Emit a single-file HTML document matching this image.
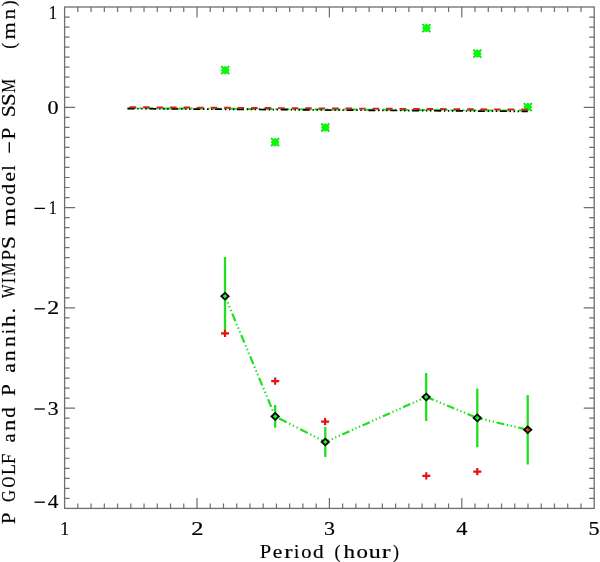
<!DOCTYPE html>
<html><head><meta charset="utf-8"><style>
html,body{margin:0;padding:0;background:#fff;width:600px;height:562px;overflow:hidden;}
svg{display:block;font-family:"Liberation Serif",serif;will-change:transform;}
</style></head><body>
<svg width="600" height="562" viewBox="0 0 600 562"><rect x="64.60" y="7.00" width="529.60" height="501.40" fill="none" stroke="#6e6e6e" stroke-width="1.3"/>
<path d="M77.84 508.40V503.40M77.84 7.00V12.00M91.08 508.40V503.40M91.08 7.00V12.00M104.32 508.40V503.40M104.32 7.00V12.00M117.56 508.40V503.40M117.56 7.00V12.00M130.80 508.40V503.40M130.80 7.00V12.00M144.04 508.40V503.40M144.04 7.00V12.00M157.28 508.40V503.40M157.28 7.00V12.00M170.52 508.40V503.40M170.52 7.00V12.00M183.76 508.40V503.40M183.76 7.00V12.00M197.00 508.40V497.90M197.00 7.00V17.50M210.24 508.40V503.40M210.24 7.00V12.00M223.48 508.40V503.40M223.48 7.00V12.00M236.72 508.40V503.40M236.72 7.00V12.00M249.96 508.40V503.40M249.96 7.00V12.00M263.20 508.40V503.40M263.20 7.00V12.00M276.44 508.40V503.40M276.44 7.00V12.00M289.68 508.40V503.40M289.68 7.00V12.00M302.92 508.40V503.40M302.92 7.00V12.00M316.16 508.40V503.40M316.16 7.00V12.00M329.40 508.40V497.90M329.40 7.00V17.50M342.64 508.40V503.40M342.64 7.00V12.00M355.88 508.40V503.40M355.88 7.00V12.00M369.12 508.40V503.40M369.12 7.00V12.00M382.36 508.40V503.40M382.36 7.00V12.00M395.60 508.40V503.40M395.60 7.00V12.00M408.84 508.40V503.40M408.84 7.00V12.00M422.08 508.40V503.40M422.08 7.00V12.00M435.32 508.40V503.40M435.32 7.00V12.00M448.56 508.40V503.40M448.56 7.00V12.00M461.80 508.40V497.90M461.80 7.00V17.50M475.04 508.40V503.40M475.04 7.00V12.00M488.28 508.40V503.40M488.28 7.00V12.00M501.52 508.40V503.40M501.52 7.00V12.00M514.76 508.40V503.40M514.76 7.00V12.00M528.00 508.40V503.40M528.00 7.00V12.00M541.24 508.40V503.40M541.24 7.00V12.00M554.48 508.40V503.40M554.48 7.00V12.00M567.72 508.40V503.40M567.72 7.00V12.00M580.96 508.40V503.40M580.96 7.00V12.00M64.60 17.03H69.60M594.20 17.03H589.20M64.60 27.06H69.60M594.20 27.06H589.20M64.60 37.08H69.60M594.20 37.08H589.20M64.60 47.11H69.60M594.20 47.11H589.20M64.60 57.14H69.60M594.20 57.14H589.20M64.60 67.17H69.60M594.20 67.17H589.20M64.60 77.20H69.60M594.20 77.20H589.20M64.60 87.22H69.60M594.20 87.22H589.20M64.60 97.25H69.60M594.20 97.25H589.20M64.60 107.28H75.10M594.20 107.28H583.70M64.60 117.31H69.60M594.20 117.31H589.20M64.60 127.34H69.60M594.20 127.34H589.20M64.60 137.36H69.60M594.20 137.36H589.20M64.60 147.39H69.60M594.20 147.39H589.20M64.60 157.42H69.60M594.20 157.42H589.20M64.60 167.45H69.60M594.20 167.45H589.20M64.60 177.48H69.60M594.20 177.48H589.20M64.60 187.50H69.60M594.20 187.50H589.20M64.60 197.53H69.60M594.20 197.53H589.20M64.60 207.56H75.10M594.20 207.56H583.70M64.60 217.59H69.60M594.20 217.59H589.20M64.60 227.62H69.60M594.20 227.62H589.20M64.60 237.64H69.60M594.20 237.64H589.20M64.60 247.67H69.60M594.20 247.67H589.20M64.60 257.70H69.60M594.20 257.70H589.20M64.60 267.73H69.60M594.20 267.73H589.20M64.60 277.76H69.60M594.20 277.76H589.20M64.60 287.78H69.60M594.20 287.78H589.20M64.60 297.81H69.60M594.20 297.81H589.20M64.60 307.84H75.10M594.20 307.84H583.70M64.60 317.87H69.60M594.20 317.87H589.20M64.60 327.90H69.60M594.20 327.90H589.20M64.60 337.92H69.60M594.20 337.92H589.20M64.60 347.95H69.60M594.20 347.95H589.20M64.60 357.98H69.60M594.20 357.98H589.20M64.60 368.01H69.60M594.20 368.01H589.20M64.60 378.04H69.60M594.20 378.04H589.20M64.60 388.06H69.60M594.20 388.06H589.20M64.60 398.09H69.60M594.20 398.09H589.20M64.60 408.12H75.10M594.20 408.12H583.70M64.60 418.15H69.60M594.20 418.15H589.20M64.60 428.18H69.60M594.20 428.18H589.20M64.60 438.20H69.60M594.20 438.20H589.20M64.60 448.23H69.60M594.20 448.23H589.20M64.60 458.26H69.60M594.20 458.26H589.20M64.60 468.29H69.60M594.20 468.29H589.20M64.60 478.32H69.60M594.20 478.32H589.20M64.60 488.34H69.60M594.20 488.34H589.20M64.60 498.37H69.60M594.20 498.37H589.20" stroke="#6e6e6e" stroke-width="1.2" fill="none"/>
<g font-family="Liberation Serif" font-size="20" fill="#000" stroke="#000" stroke-width="0.2"><text font-size="20" transform="translate(48.63 19.20) scale(0.838 0.96)">1</text><text font-size="20" transform="translate(47.46 114.00) scale(1.109 0.96)">0</text><text font-size="20" transform="translate(48.68 214.40) scale(0.810 0.96)">1</text><rect x="34.5" y="207.75" width="10.4" height="1.3" stroke="none"/><text font-size="20" transform="translate(47.35 313.90) scale(1.197 0.96)">2</text><rect x="34.5" y="308.15" width="10.4" height="1.3" stroke="none"/><text font-size="20" transform="translate(47.66 414.80) scale(1.089 0.96)">3</text><rect x="34.5" y="408.35" width="10.4" height="1.3" stroke="none"/><text font-size="20" transform="translate(47.68 508.00) scale(1.065 0.96)">4</text><rect x="34.5" y="501.55" width="10.4" height="1.3" stroke="none"/><text font-size="20" transform="translate(60.13 534.80) scale(0.895 0.96)">1</text><text font-size="20" transform="translate(191.23 534.80) scale(1.222 0.96)">2</text><text font-size="20" transform="translate(323.95 534.80) scale(1.101 0.96)">3</text><text font-size="20" transform="translate(456.16 534.80) scale(1.119 0.96)">4</text><text font-size="20" transform="translate(588.42 534.80) scale(1.105 0.96)">5</text><text font-size="19.5" transform="translate(259.71 558.00) scale(1.052 1.0)">P</text><text font-size="19.5" transform="translate(272.86 558.00) scale(1.108 1.0)">e</text><text font-size="19.5" transform="translate(284.20 558.00) scale(1.281 1.0)">r</text><text font-size="19.5" transform="translate(294.10 558.00) scale(0.970 1.0)">i</text><text font-size="19.5" transform="translate(301.22 558.00) scale(1.053 1.0)">o</text><text font-size="19.5" transform="translate(312.93 558.00) scale(1.090 1.0)">d</text><text font-size="19.5" transform="translate(334.50 558.00) scale(0.938 1.0)">(</text><text font-size="19.5" transform="translate(343.47 558.00) scale(1.182 1.0)">h</text><text font-size="19.5" transform="translate(356.43 558.00) scale(1.174 1.0)">o</text><text font-size="19.5" transform="translate(368.68 558.00) scale(1.234 1.0)">u</text><text font-size="19.5" transform="translate(381.77 558.00) scale(1.349 1.0)">r</text><text font-size="19.5" transform="translate(393.12 558.00) scale(0.918 1.0)">)</text></g>
<g transform="rotate(-90)" font-family="Liberation Serif" font-size="20" fill="#000" stroke="#000" stroke-width="0.2"><text font-size="20" transform="translate(-524.09 15.00) scale(1.026 0.96)">P</text><text font-size="20" transform="translate(-501.88 15.00) scale(0.823 0.96)">G</text><text font-size="20" transform="translate(-487.62 15.00) scale(0.750 0.96)">O</text><text font-size="20" transform="translate(-475.11 15.00) scale(0.891 0.96)">L</text><text font-size="20" transform="translate(-464.04 15.00) scale(0.936 0.96)">F</text><text font-size="20" transform="translate(-442.61 15.00) scale(1.013 0.96)">a</text><text font-size="20" transform="translate(-430.92 15.00) scale(1.126 0.96)">n</text><text font-size="20" transform="translate(-417.85 15.00) scale(1.041 0.96)">d</text><text font-size="20" transform="translate(-395.70 15.00) scale(1.036 0.96)">P</text><text font-size="20" transform="translate(-372.77 15.00) scale(1.089 0.96)">a</text><text font-size="20" transform="translate(-361.20 15.00) scale(1.093 0.96)">n</text><text font-size="20" transform="translate(-346.78 15.00) scale(1.039 0.96)">n</text><text font-size="20" transform="translate(-333.84 15.00) scale(0.799 0.96)">i</text><text font-size="20" transform="translate(-327.03 15.00) scale(1.174 0.96)">h</text><text font-size="20" transform="translate(-313.61 15.00) scale(1.142 0.96)">.</text><text font-size="20" transform="translate(-297.91 15.00) scale(0.712 0.96)">W</text><text font-size="20" transform="translate(-283.29 15.00) scale(0.821 0.96)">I</text><text font-size="20" transform="translate(-276.03 15.00) scale(0.752 0.96)">M</text><text font-size="20" transform="translate(-260.13 15.00) scale(0.913 0.96)">P</text><text font-size="20" transform="translate(-248.97 15.00) scale(1.170 0.96)">S</text><text font-size="20" transform="translate(-226.08 15.00) scale(1.154 0.96)">m</text><text font-size="20" transform="translate(-206.06 15.00) scale(1.003 0.96)">o</text><text font-size="20" transform="translate(-194.57 15.00) scale(1.063 0.96)">d</text><text font-size="20" transform="translate(-181.87 15.00) scale(1.108 0.96)">e</text><text font-size="20" transform="translate(-170.69 15.00) scale(0.967 0.96)">l</text><rect x="-152.70" y="8.65" width="10.60" height="1.3" stroke="none"/><text font-size="20" transform="translate(-139.51 15.00) scale(1.067 0.96)">P</text><text font-size="20" transform="translate(-117.34 15.00) scale(1.077 0.96)">S</text><text font-size="20" transform="translate(-106.12 15.00) scale(1.135 0.96)">S</text><text font-size="20" transform="translate(-92.74 15.00) scale(0.770 0.96)">M</text><text font-size="20" transform="translate(-48.75 15.00) scale(0.857 0.96)">(</text><text font-size="20" transform="translate(-39.56 15.00) scale(1.106 0.96)">m</text><text font-size="20" transform="translate(-19.59 15.00) scale(1.061 0.96)">n</text><text font-size="20" transform="translate(-6.36 15.00) scale(0.876 0.96)">)</text></g>
<path d="M221.2 70.2H229.2M225.2 66.2V74.2M221.2 66.2L229.2 74.2M221.2 74.2L229.2 66.2" stroke="#2cc82c" stroke-width="1.9" fill="none"/><rect x="221.89999999999998" y="66.9" width="6.6" height="6.6" fill="#00ff00"/>
<path d="M271.1 142.2H279.1M275.1 138.2V146.2M271.1 138.2L279.1 146.2M271.1 146.2L279.1 138.2" stroke="#2cc82c" stroke-width="1.9" fill="none"/><rect x="271.8" y="138.89999999999998" width="6.6" height="6.6" fill="#00ff00"/>
<path d="M321.3 127.5H329.3M325.3 123.5V131.5M321.3 123.5L329.3 131.5M321.3 131.5L329.3 123.5" stroke="#2cc82c" stroke-width="1.9" fill="none"/><rect x="322.0" y="124.2" width="6.6" height="6.6" fill="#00ff00"/>
<path d="M422.4 28.1H430.4M426.4 24.1V32.1M422.4 24.1L430.4 32.1M422.4 32.1L430.4 24.1" stroke="#2cc82c" stroke-width="1.9" fill="none"/><rect x="423.09999999999997" y="24.8" width="6.6" height="6.6" fill="#00ff00"/>
<path d="M473.3 53.6H481.3M477.3 49.6V57.6M473.3 49.6L481.3 57.6M473.3 57.6L481.3 49.6" stroke="#2cc82c" stroke-width="1.9" fill="none"/><rect x="474.0" y="50.300000000000004" width="6.6" height="6.6" fill="#00ff00"/>
<path d="M523.8 107.1H531.8M527.8 103.1V111.1M523.8 103.1L531.8 111.1M523.8 111.1L531.8 103.1" stroke="#2cc82c" stroke-width="1.9" fill="none"/><rect x="524.5" y="103.8" width="6.6" height="6.6" fill="#00ff00"/>
<path d="M127.5 108.2L527.8 110.6" stroke="#20e020" stroke-width="2" fill="none" stroke-dasharray="9 3 2 3"/>
<path d="M127.5 108.6L527.8 111.4" stroke="#000" stroke-width="1.7" fill="none" stroke-dasharray="7 2.8 1.4 2.6 1.4 2.6 1.4 2.7"/>
<path d="M129.6 107.2L527.8 109.6" stroke="#cc2222" stroke-width="1.9" fill="none" stroke-dasharray="6.6 6.9"/>
<path d="M225.0 256.9V335.5M275.2 405.0V427.79999999999995M325.3 427.1V456.9M426.2 373.0V421.0M477.3 388.5V447.29999999999995M527.7 395.0V464.6" stroke="#1fe01f" stroke-width="2.3" fill="none"/>
<path d="M225.0 296.2L275.2 416.4" stroke="#1fe01f" stroke-width="2.2" fill="none" stroke-dasharray="8.25 2.78 1.34 2.68 1.34 2.68 1.34 2.78" stroke-dashoffset="4.30"/>
<path d="M275.2 416.4L325.3 442.0" stroke="#1fe01f" stroke-width="2.2" fill="none" stroke-dasharray="8.39 2.83 1.36 2.73 1.36 2.73 1.36 2.83" stroke-dashoffset="19.10"/>
<path d="M325.3 442.0L426.2 397.0" stroke="#1fe01f" stroke-width="2.2" fill="none" stroke-dasharray="7.89 2.66 1.28 2.57 1.28 2.57 1.28 2.66" stroke-dashoffset="3.60"/>
<path d="M426.2 397.0L477.3 417.9" stroke="#1fe01f" stroke-width="2.2" fill="none" stroke-dasharray="7.89 2.66 1.28 2.57 1.28 2.57 1.28 2.66" stroke-dashoffset="21.90"/>
<path d="M477.3 417.9L527.7 429.8" stroke="#1fe01f" stroke-width="2.2" fill="none" stroke-dasharray="7.89 2.66 1.28 2.57 1.28 2.57 1.28 2.66" stroke-dashoffset="2.40"/>
<path d="M221.0 333.3H229.0M225.0 329.7V336.90000000000003M271.2 381.2H279.2M275.2 377.59999999999997V384.8M321.1 421.6H329.1M325.1 418.0V425.20000000000005M422.3 475.9H430.3M426.3 472.29999999999995V479.5M473.3 471.6H481.3M477.3 468.0V475.20000000000005M523.7 429.8H531.7M527.7 426.2V433.40000000000003" stroke="#e81010" stroke-width="2.2" fill="none"/>
<path d="M221.3 296.2L225.0 292.8L228.7 296.2L225.0 299.59999999999997Z" stroke="#000" stroke-width="1.7" fill="#28e83c"/>
<path d="M271.5 416.4L275.2 413.0L278.9 416.4L275.2 419.79999999999995Z" stroke="#000" stroke-width="1.7" fill="#28e83c"/>
<path d="M321.6 442.0L325.3 438.6L329.0 442.0L325.3 445.4Z" stroke="#000" stroke-width="1.7" fill="#28e83c"/>
<path d="M422.5 397.0L426.2 393.6L429.9 397.0L426.2 400.4Z" stroke="#000" stroke-width="1.7" fill="#28e83c"/>
<path d="M473.6 417.9L477.3 414.5L481.0 417.9L477.3 421.29999999999995Z" stroke="#000" stroke-width="1.7" fill="#28e83c"/>
<path d="M524.0 429.8L527.7 426.40000000000003L531.4000000000001 429.8L527.7 433.2Z" stroke="#000" stroke-width="1.7" fill="#b84a1c"/></svg>
</body></html>
